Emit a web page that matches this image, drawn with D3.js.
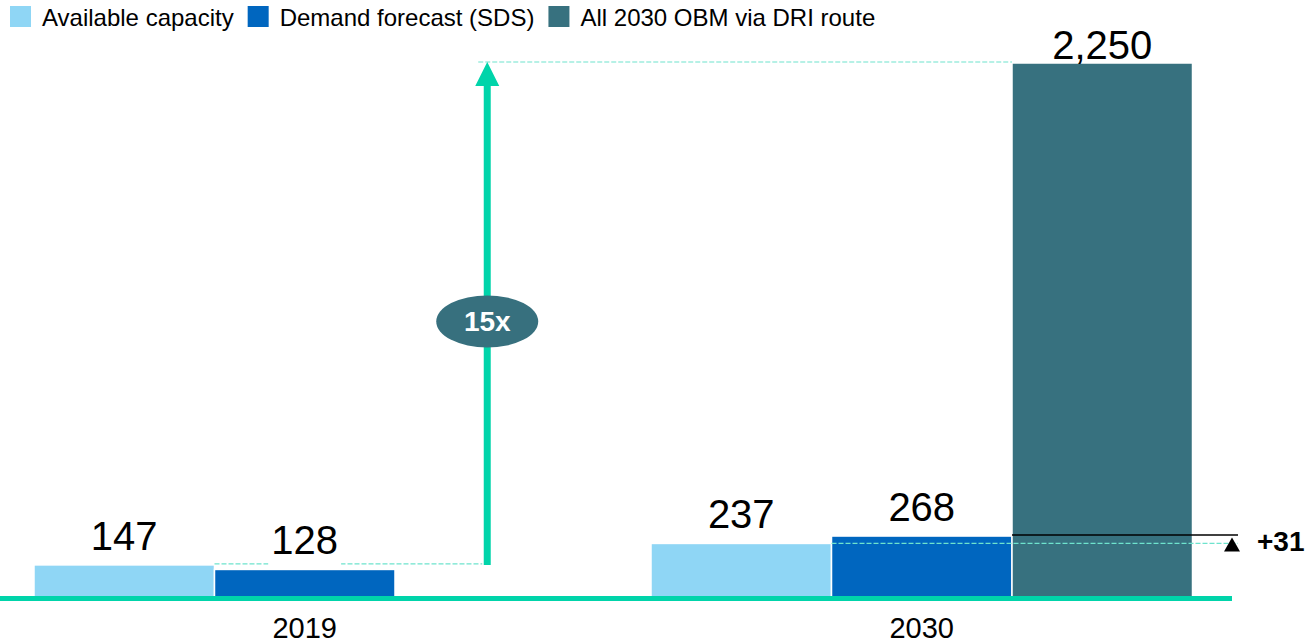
<!DOCTYPE html>
<html>
<head>
<meta charset="utf-8">
<script src="https://cdn.jsdelivr.net/npm/d3@7"></script>
<style>
  html, body { margin: 0; padding: 0; background: #ffffff; }
  svg { display: block; font-family: "Liberation Sans", Arial, sans-serif; }
</style>
</head>
<body>
<script>
// Years on the category axis
const years = ["2019", "2030"];
// Series names, in legend / bar order
const seriesNames = ["Available capacity", "Demand forecast (SDS)", "All 2030 OBM via DRI route"];
// Values per year
const availableCapacity = [147, 237];
const demandForecast = [128, 268];
const obmViaDri = [null, 2250];
// Growth callout on the arrow
const multipleLabel = "15x";

const colors = ["#8fd6f5", "#0066bf", "#37717f"];
const teal = "#00d4aa";
const dashTeal = "#6ee3cd";

const W = 1307, H = 644;
const svg = d3.select("body").append("svg").attr("width", W).attr("height", H);

const seriesValues = [availableCapacity, demandForecast, obmViaDri];
const yMax = d3.max(seriesValues.flat().filter(v => v != null));

const y = d3.scaleLinear().domain([0, yMax]).range([600, 63]);
const x0 = d3.scaleBand().domain(years).range([34, 1192.5]).paddingInner(0.1224).paddingOuter(0);
const x1 = d3.scaleBand().domain(d3.range(seriesNames.length)).range([0, x0.bandwidth()]);

const fmt = d3.format(",");

// Bars
const rows = [];
years.forEach((yr, i) => {
  seriesValues.forEach((vals, s) => {
    if (vals[i] != null) rows.push({ year: yr, s, value: vals[i] });
  });
});

svg.append("g").selectAll("rect").data(rows).join("rect")
  .attr("x", d => x0(d.year) + x1(d.s))
  .attr("y", d => y(d.value))
  .attr("width", x1.bandwidth())
  .attr("height", d => y(0) - y(d.value))
  .attr("fill", d => colors[d.s])
  .attr("stroke", "#ffffff")
  .attr("stroke-width", 1.5);

// Helper lines
const xAt = (yr, s) => x0(yr) + x1(s);
const guides = svg.append("g").attr("fill", "none");

// 2019 available capacity level, carried across to the arrow
const arrowX = xAt("2019", 2) + x1.bandwidth() / 2 + 2;
guides.append("line")
  .attr("x1", xAt("2019", 1)).attr("x2", arrowX - 5)
  .attr("y1", y(availableCapacity[0]) - 1).attr("y2", y(availableCapacity[0]) - 1)
  .attr("stroke", dashTeal).attr("stroke-width", 1.2).attr("stroke-dasharray", "5,2");

// 2030 OBM level, carried back to the arrow tip
guides.append("line")
  .attr("x1", arrowX - 9).attr("x2", xAt("2030", 2))
  .attr("y1", y(obmViaDri[1]) - 1).attr("y2", y(obmViaDri[1]) - 1)
  .attr("stroke", dashTeal).attr("stroke-width", 1.2).attr("stroke-dasharray", "5,2");

// Gap between 2030 capacity and demand
const gapEnd = 1238;
guides.append("line")
  .attr("x1", xAt("2030", 1)).attr("x2", gapEnd)
  .attr("y1", y(availableCapacity[1])).attr("y2", y(availableCapacity[1]))
  .attr("stroke", dashTeal).attr("stroke-width", 1.2).attr("stroke-dasharray", "5,2");

guides.append("line")
  .attr("x1", xAt("2030", 2)).attr("x2", gapEnd)
  .attr("y1", y(demandForecast[1]) - 1).attr("y2", y(demandForecast[1]) - 1)
  .attr("stroke", "#000000").attr("stroke-width", 1.6);

const triX = 1232, triBase = y(availableCapacity[1]) + 8;
svg.append("path")
  .attr("d", `M${triX - 8},${triBase} L${triX + 8},${triBase} L${triX},${triBase - 14} Z`)
  .attr("fill", "#000000");

svg.append("text")
  .attr("x", 1257).attr("y", triBase)
  .attr("font-size", 28).attr("font-weight", "bold").attr("fill", "#000000")
  .text("+" + (demandForecast[1] - availableCapacity[1]));

// Axis baseline
svg.append("line")
  .attr("x1", 0).attr("x2", 1232)
  .attr("y1", 598.5).attr("y2", 598.5)
  .attr("stroke", teal).attr("stroke-width", 5);

// Value labels, each on a white box that stops above its own bar
const labels = svg.append("g");
rows.forEach(d => {
  const cx = x0(d.year) + x1(d.s) + x1.bandwidth() / 2;
  const base = Math.max(y(d.value) - 15, 59);
  const g = labels.append("g");
  const t = g.append("text")
    .attr("x", cx).attr("y", base)
    .attr("text-anchor", "middle")
    .attr("font-size", 40).attr("fill", "#000000")
    .text(fmt(d.value));
  const w = t.node().getComputedTextLength();
  const boxTop = base - 32;
  const boxBottom = Math.min(base + 12, y(d.value) - 1);
  g.insert("rect", "text")
    .attr("x", cx - w / 2 - 3).attr("y", boxTop)
    .attr("width", w + 6).attr("height", boxBottom - boxTop)
    .attr("fill", "#ffffff");
});

// Growth arrow from 2019 capacity to the 2030 OBM requirement
const arrowBottom = y(availableCapacity[0]);
const arrowTop = y(obmViaDri[1]) - 1;
svg.append("line")
  .attr("x1", arrowX).attr("x2", arrowX)
  .attr("y1", arrowBottom).attr("y2", arrowTop + 20)
  .attr("stroke", teal).attr("stroke-width", 7);
svg.append("path")
  .attr("d", `M${arrowX - 12},${arrowTop + 24} L${arrowX + 12},${arrowTop + 24} L${arrowX},${arrowTop} Z`)
  .attr("fill", teal);

const ellY = (arrowBottom + arrowTop) / 2 + 8;
svg.append("ellipse")
  .attr("cx", arrowX).attr("cy", ellY)
  .attr("rx", 51).attr("ry", 26)
  .attr("fill", "#37707e");
svg.append("text")
  .attr("x", arrowX).attr("y", ellY + 10)
  .attr("text-anchor", "middle")
  .attr("font-size", 28).attr("font-weight", "bold").attr("fill", "#ffffff")
  .text(multipleLabel);

// Year labels
svg.append("g").selectAll("text").data(years).join("text")
  .attr("x", d => x0(d) + x0.bandwidth() / 2)
  .attr("y", 638)
  .attr("text-anchor", "middle")
  .attr("font-size", 29).attr("fill", "#000000")
  .text(d => d);

// Legend
const legend = svg.append("g");
let lx = 10;
seriesNames.forEach((name, i) => {
  legend.append("rect")
    .attr("x", lx).attr("y", 6).attr("width", 21).attr("height", 21)
    .attr("fill", colors[i]);
  const t = legend.append("text")
    .attr("x", lx + 32).attr("y", 26)
    .attr("font-size", 24).attr("fill", "#000000")
    .text(name);
  lx += 32 + t.node().getComputedTextLength() + 14;
});
</script>
</body>
</html>
